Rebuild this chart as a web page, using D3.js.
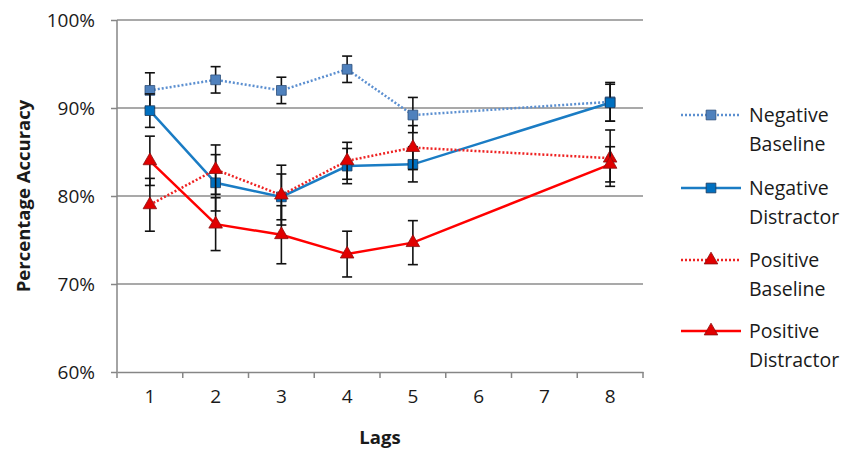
<!DOCTYPE html>
<html lang="en">
<head>
    <meta charset="UTF-8">
    <script src="https://cdn.jsdelivr.net/npm/d3@7"></script>
    <title>Percentage Accuracy by Lag</title>
    <style>
        body {
            margin: 0;
            background: #fff;
            font-family: "Open Sans", Arial, sans-serif;
        }
        text {
            fill: #1a1a1a;
        }
    </style>
</head>
<body>
    <div id="chart"></div>
    <script>
        const width = 846;
        const height = 450;

        // x categories (lags 6 and 7 have no data)
        const lags = ["1", "2", "3", "4", "5", "6", "7", "8"];
        const dataLags = ["1", "2", "3", "4", "5", "8"];
        const yTicks = [0.6, 0.7, 0.8, 0.9, 1.0];

        // values in percent, error bars as +/- percent
        const negBaseline = [92.0, 93.2, 92.0, 94.4, 89.2, 90.7];
        const negBaselineErr = [2.0, 1.5, 1.5, 1.5, 2.0, 2.2];
        const negDistractor = [89.7, 81.5, 79.9, 83.4, 83.6, 90.6];
        const negDistractorErr = [1.9, 3.2, 2.6, 2.0, 2.0, 2.1];
        const posBaseline = [79.0, 83.0, 80.1, 84.0, 85.5, 84.3];
        const posBaselineErr = [3.0, 2.8, 3.4, 2.1, 2.5, 3.2];
        const posDistractor = [84.0, 76.8, 75.6, 73.4, 74.7, 83.6];
        const posDistractorErr = [2.8, 3.0, 3.3, 2.6, 2.5, 2.0];

        const series = [
            { name: ["Negative", "Baseline"], values: negBaseline, err: negBaselineErr, color: "#5b8fd0", fill: "#4f81bd", stroke: "#2f4f7a", dash: "2,2", shape: "square" },
            { name: ["Negative", "Distractor"], values: negDistractor, err: negDistractorErr, color: "#1a7cc4", fill: "#0070c0", stroke: "#1f3a5a", dash: null, shape: "square" },
            { name: ["Positive", "Baseline"], values: posBaseline, err: posBaselineErr, color: "#ee2222", fill: "#e00000", stroke: "#8a1010", dash: "2,2", shape: "triangle" },
            { name: ["Positive", "Distractor"], values: posDistractor, err: posDistractorErr, color: "#ff0000", fill: "#e00000", stroke: "#8a1010", dash: null, shape: "triangle" }
        ];

        const margin = { left: 117, right: 203, top: 20, bottom: 78 };

        const svg = d3.select("#chart").append("svg")
            .attr("width", width)
            .attr("height", height);

        const x = d3.scaleBand()
            .domain(lags)
            .range([margin.left, width - margin.right]);

        const y = d3.scaleLinear()
            .domain([0.6, 1.0])
            .range([height - margin.bottom, margin.top]);

        const cx = d => x(d) + x.bandwidth() / 2;

        // gridlines
        svg.append("g")
            .selectAll("line")
            .data(yTicks.slice(1))
            .enter().append("line")
            .attr("x1", margin.left)
            .attr("x2", width - margin.right)
            .attr("y1", d => y(d))
            .attr("y2", d => y(d))
            .attr("stroke", "#8c8c8c")
            .attr("stroke-width", 1.5);

        // y axis
        const yAxis = svg.append("g")
            .attr("transform", `translate(${margin.left},0)`)
            .call(d3.axisLeft(y).tickValues(yTicks).tickFormat(d3.format(".0%")).tickSize(6).tickPadding(16));
        yAxis.selectAll("line, path").attr("stroke", "#868686").attr("stroke-width", 1.5);
        yAxis.select(".domain").attr("d", `M0,${y(1.0)}V${y(0.6)}`);
        yAxis.selectAll("text")
            .style("font-family", "'Open Sans', Arial, sans-serif")
            .style("font-size", "19px")
            .attr("fill", "#1a1a1a");

        // x axis: labels centered in bands, ticks on band edges
        const xAxis = svg.append("g")
            .attr("transform", `translate(0,${y(0.6)})`)
            .call(d3.axisBottom(x).tickSize(0).tickPadding(18));
        xAxis.select(".domain").attr("stroke", "#868686").attr("stroke-width", 1.5);
        xAxis.selectAll("text")
            .style("font-family", "'Open Sans', Arial, sans-serif")
            .style("font-size", "19px")
            .attr("fill", "#1a1a1a");
        xAxis.selectAll(".edge")
            .data(lags.map(d => x(d)).concat([x.range()[1]]))
            .enter().append("line")
            .attr("class", "edge")
            .attr("x1", d => d).attr("x2", d => d)
            .attr("y1", 0).attr("y2", 6)
            .attr("stroke", "#868686").attr("stroke-width", 1.5);

        // axis titles
        svg.append("text")
            .attr("transform", `translate(30,${(y(0.6) + y(1.0)) / 2}) rotate(-90)`)
            .attr("text-anchor", "middle")
            .style("font-size", "18.5px")
            .style("font-weight", "bold")
            .text("Percentage Accuracy");

        svg.append("text")
            .attr("x", (x.range()[0] + x.range()[1]) / 2)
            .attr("y", 444)
            .attr("text-anchor", "middle")
            .style("font-size", "18.5px")
            .style("font-weight", "bold")
            .text("Lags");

        const line = d3.line()
            .x(d => cx(d.lag))
            .y(d => y(d.v / 100));

        const square = d3.symbol().type(d3.symbolSquare).size(95);
        const triangle = d3.symbol().type(d3.symbolTriangle).size(80);

        series.forEach(s => {
            const pts = dataLags.map((lag, i) => ({ lag: lag, v: s.values[i], e: s.err[i] }));
            const g = svg.append("g");

            g.append("path")
                .datum(pts)
                .attr("d", line)
                .attr("fill", "none")
                .attr("stroke", s.color)
                .attr("stroke-width", 2.5)
                .attr("stroke-dasharray", s.dash);

            const eb = g.selectAll(".eb")
                .data(pts)
                .enter().append("g")
                .attr("stroke", "#111")
                .attr("stroke-width", 1.6);
            eb.append("line")
                .attr("x1", d => cx(d.lag)).attr("x2", d => cx(d.lag))
                .attr("y1", d => y((d.v + d.e) / 100))
                .attr("y2", d => y((d.v - d.e) / 100));
            eb.append("line")
                .attr("x1", d => cx(d.lag) - 5).attr("x2", d => cx(d.lag) + 5)
                .attr("y1", d => y((d.v + d.e) / 100))
                .attr("y2", d => y((d.v + d.e) / 100));
            eb.append("line")
                .attr("x1", d => cx(d.lag) - 5).attr("x2", d => cx(d.lag) + 5)
                .attr("y1", d => y((d.v - d.e) / 100))
                .attr("y2", d => y((d.v - d.e) / 100));

            g.selectAll(".mk")
                .data(pts)
                .enter().append("path")
                .attr("d", s.shape === "square" ? square : triangle)
                .attr("transform", d => `translate(${cx(d.lag)},${y(d.v / 100)})`)
                .attr("fill", s.fill)
                .attr("stroke", s.stroke)
                .attr("stroke-width", 0.8);
        });

        // legend
        const legend = svg.append("g");
        const rowY = [115, 188, 260, 331];
        series.forEach((s, i) => {
            const lg = legend.append("g").attr("transform", `translate(0,${rowY[i]})`);
            lg.append("line")
                .attr("x1", 681).attr("x2", 741)
                .attr("y1", 0).attr("y2", 0)
                .attr("stroke", s.color)
                .attr("stroke-width", 2.5)
                .attr("stroke-dasharray", s.dash);
            lg.append("path")
                .attr("d", s.shape === "square" ? square : triangle)
                .attr("transform", "translate(711,0)")
                .attr("fill", s.fill)
                .attr("stroke", s.stroke)
                .attr("stroke-width", 0.8);
            lg.append("text")
                .attr("x", 749)
                .attr("y", 0)
                .attr("dy", "0.35em")
                .style("font-size", "19.5px")
                .text(s.name[0]);
            lg.append("text")
                .attr("x", 749)
                .attr("y", 29)
                .attr("dy", "0.35em")
                .style("font-size", "19.5px")
                .text(s.name[1]);
        });
    </script>
</body>
</html>
